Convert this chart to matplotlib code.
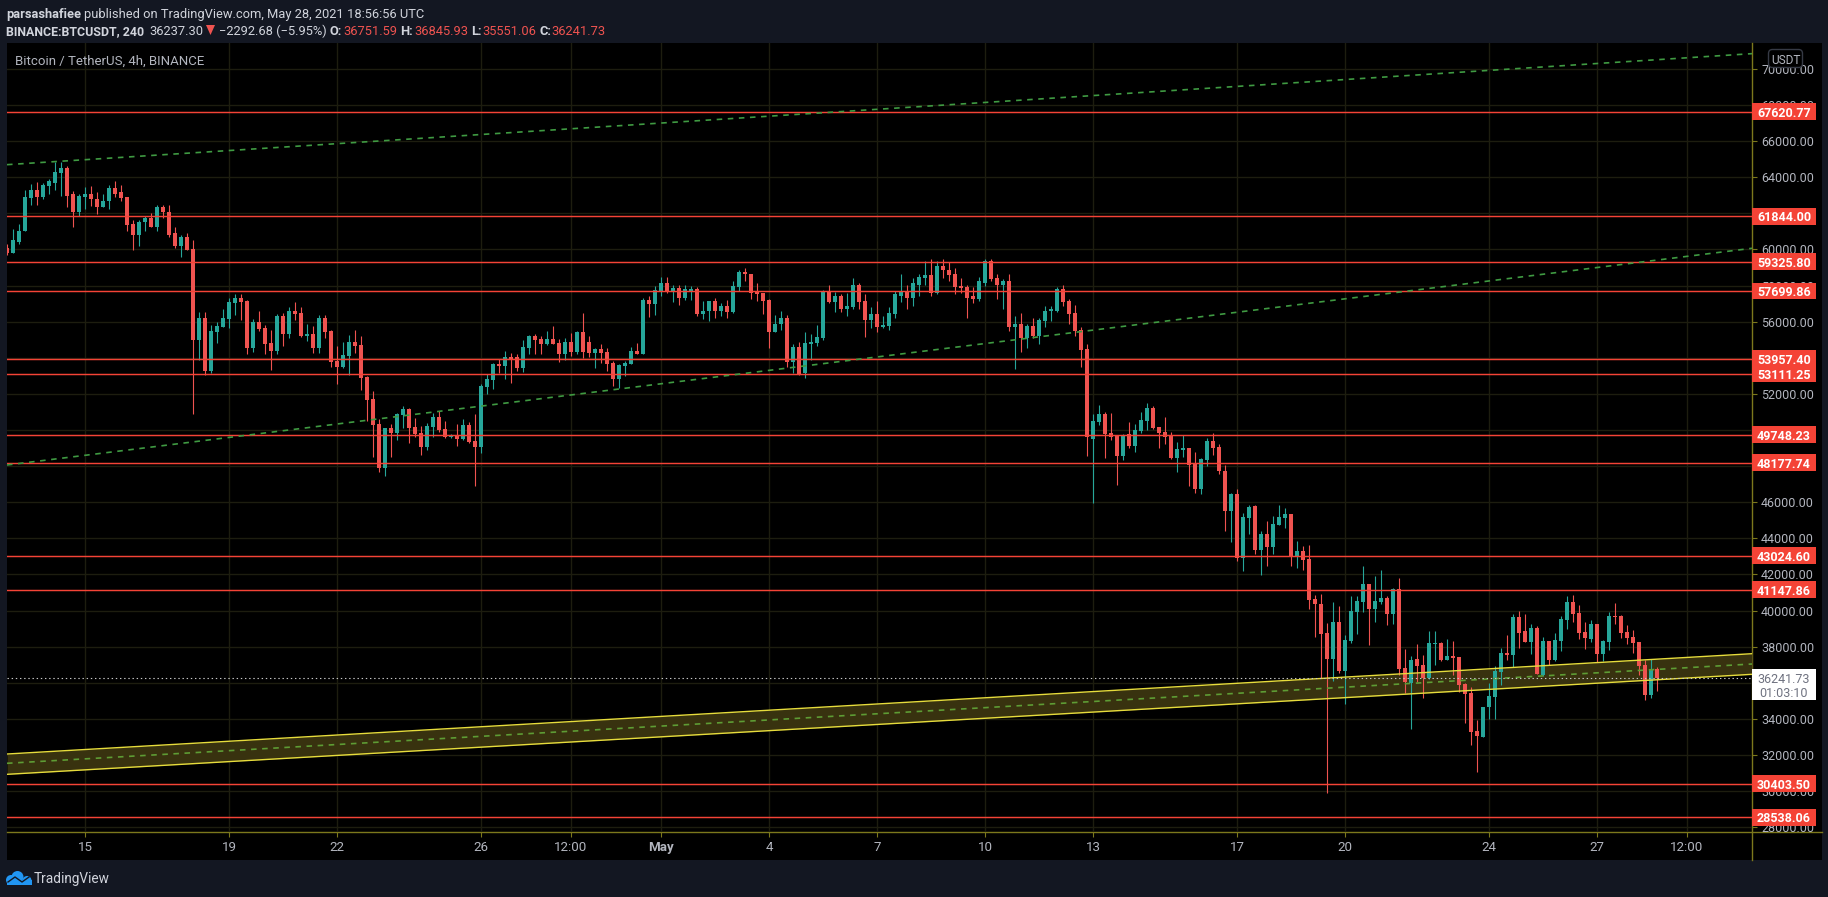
#!/usr/bin/env python3

import matplotlib
matplotlib.use('Agg')
import matplotlib.pyplot as plt
from matplotlib.patches import Rectangle, Circle, FancyBboxPatch, Polygon

# ------------------------
# Candles, 4h bars, bar 0 is April 15 00:00
# ------------------------
bars = list(range(-13, 263))

opens = [
    60090,59820,60440,61000,62880,63320,62930,63540,63710,64260,
    64540,63050,62100,62930,63050,62820,62330,62660,63380,63160,
    62930,61440,60830,61500,61720,61270,62380,62100,60890,60220,
    60720,60000,
    54960,56180,53250,55410,55680,56130,57010,57340,57120,54520,
    55960,55630,54800,54350,56290,55300,56570,56460,55190,55300,
    54520,56180,55460,53800,53470,54080,54850,54690,52920,51700,
    50310,47880,50090,49820,50810,51140,50150,49820,49040,50150,
    50700,50040,49590,49700,49480,50260,49370,49040,52360,52750,
    53640,53520,54020,54020,53410,54520,55190,55020,54740,55020,
    54800,54190,54850,54300,55410,54850,54240,54470,54300,53690,
    52800,53520,53640,54350,54190,57180,56960,57680,58170,57680,
    57840,57290,57680,57790,56400,56570,57120,56570,56850,56510,
    57900,58780,58670,57620,57570,57180,55410,55850,56180,53750,
    54580,53140,54740,54800,55070,57620,57070,57450,56730,56790,
    58010,57120,56070,56400,55680,55740,56400,57450,57620,57290,
    58060,58400,58560,57570,59060,58890,58670,57950,57900,57400,
    57230,58170,59390,58400,58010,58280,55680,55850,55070,55740,
    55190,56020,56570,56620,57790,57120,56460,55520,54470,49480,
    50430,50870,49820,49650,48540,49760,49100,49930,50480,51200,
    50150,49870,49650,48430,48880,48990,48100,46720,48320,49370,
    49040,47730,45520,46460,42920,45130,45800,43360,44250,43530,
    44750,45130,45360,42980,43310,42860,40650,40370,38770,37330,
    39380,36670,38330,39930,40480,41480,40100,40480,40710,39820,
    41200,36830,36000,37330,37000,36280,38160,38220,37270,37500,
    37440,35950,35450,33340,33010,34670,35230,36610,37660,37550,
    39650,38880,38270,39050,36440,38330,37270,38330,39490,40480,
    39880,38820,38440,39270,37610,38270,39710,39710,38820,38550,
    38270,37000,35340,36751.59]

closes = [
    59820,60500,61050,62930,63320,62930,63600,63780,64320,64540,
    62990,62100,62990,63050,62770,62330,62710,63380,63100,62880,
    61380,60830,61550,61720,61270,62380,62050,60830,60220,60720,
    59950,54960,
    56180,53250,55460,55740,56180,57070,57340,57070,54520,55960,
    55570,54740,54350,56290,55300,56570,56400,55190,55300,54520,
    56180,55410,53750,53470,54130,54850,54630,52860,51640,50260,
    47880,50090,49820,50870,51140,50090,49760,49040,50200,50700,
    49980,49590,49700,49480,50260,49320,49040,52420,52800,53640,
    53520,54020,53910,53410,54580,55190,54960,54740,55020,54740,
    54190,54850,54300,55410,54300,54240,54470,54240,53640,52800,
    53580,53690,54350,54190,57180,56960,57730,58170,57680,57840,
    57290,57790,57790,56400,56620,57120,56570,56850,56510,57950,
    58780,58620,57570,57510,57120,55410,55900,56180,53750,54580,
    53080,54800,54850,55130,57620,57070,57450,56730,56850,58010,
    57070,56070,56400,55680,55790,56460,57510,57620,57290,58120,
    58450,58560,57570,59060,58840,58560,57900,57840,57340,57230,
    58230,59390,58340,58010,58280,55680,55850,55070,55740,55190,
    56070,56620,56680,57790,57070,56400,55460,54410,49590,50480,
    50870,49760,49590,48540,49700,49100,49980,50540,51200,50090,
    49820,49590,48430,48930,48990,48040,46720,48380,49370,48990,
    47710,45520,46460,42920,45190,45740,43360,44250,43530,44800,
    45190,45360,42980,43310,42810,40600,40370,38710,37330,39380,
    36670,38380,39990,40540,41480,40100,40540,40710,39820,41200,
    36780,36060,37270,36940,36280,38220,38220,37270,37500,37380,
    35890,35390,33290,33070,34670,35280,36670,37660,37550,39650,
    38770,38270,39050,36500,38330,37270,38380,39540,40480,39820,
    38770,38490,39270,37610,38330,39710,39650,38770,38490,38220,
    36940,35340,36780,36241.73]

highs = [
    60280,61110,61440,63320,63650,63760,63710,63880,64870,64820,
    64650,63230,63050,63490,63510,63210,63050,63600,63820,63600,
    62930,61660,61660,61880,62030,62490,62490,62490,61220,60780,
    60940,60500,
    56510,56510,55790,55960,56680,57290,57510,57510,57180,56130,
    56620,55790,55520,56400,56460,56790,57070,56790,55850,55740,
    56350,56350,55520,54630,54850,55240,55520,55190,52970,52140,
    50590,50090,50310,50920,51310,51200,50650,50200,50370,50920,
    51030,50480,49760,50310,50590,50430,50870,52530,53080,53690,
    53910,54350,54240,54190,54960,55240,55300,55190,55460,55740,
    55020,55070,55350,55460,56460,55190,54520,54740,54520,53800,
    53640,53800,54580,54800,57290,57400,57950,58450,58450,58010,
    58060,58010,57950,57900,57120,57120,57290,57010,57180,58280,
    58840,59000,58670,58170,57570,57230,56350,56620,56350,54740,
    54850,55410,55300,55790,57730,58060,57620,57510,57570,58400,
    58120,57510,56790,57120,56290,56790,57680,58670,58060,58400,
    58620,59390,59450,59340,59500,59280,59000,58400,58010,57900,
    58450,59450,59500,58620,58340,58620,56290,56460,55850,56180,
    56180,56850,56850,57900,58010,57230,56900,55680,54740,50870,
    51370,50980,50920,49650,49760,50430,50310,50980,51480,51310,
    50150,50700,49870,49320,49700,48990,48760,48430,49540,49820,
    49210,48060,46520,46740,45410,45850,45850,44410,44970,45240,
    45850,45690,45360,43860,43580,43640,40870,40930,39320,40480,
    40260,38660,40820,40820,42480,41480,41920,42260,40820,41260,
    41810,37880,37500,38160,37550,38880,38880,38270,38440,38330,
    37440,36000,35780,33950,34670,36000,36940,37940,38660,39820,
    39990,39820,39270,39160,38550,38330,38770,39710,40820,40870,
    40320,39380,39490,39270,38380,39930,40430,39760,39210,38930,
    38270,37270,37330,36845.93]

lows = [
    59720,59780,60280,61000,62440,62490,62770,63050,63320,62990,
    62330,61270,61830,62270,62400,61990,62330,62270,62930,62660,
    61000,59950,60220,61050,61270,61050,61770,60670,60090,59560,
    59950,50870,
    53860,53030,53140,54800,55680,55630,56350,56070,54190,54300,
    55460,54190,53300,54190,54630,55070,56070,55130,54910,54240,
    54240,55070,53470,52530,53410,53030,54240,52200,50480,48490,
    47660,47440,48490,49430,50090,49260,49590,48600,48880,49590,
    49870,49540,49540,49100,49430,49260,46880,48710,51970,52250,
    53140,52800,52580,53250,53190,54190,54190,54190,54690,54740,
    53750,53860,54080,54190,53970,54020,53410,53690,53250,52420,
    52310,52970,53640,54190,54190,56240,56350,57400,57570,57070,
    56900,57180,57180,56290,56130,56020,56180,56290,56180,56460,
    57680,58230,57230,57120,56400,54520,55410,55520,53470,53140,
    53030,52860,53860,54630,54960,57010,56510,56510,56290,56730,
    56730,55130,55630,55410,55630,55520,56180,57070,56680,56850,
    57450,58010,57450,57510,58400,58280,57510,57570,56180,57010,
    57120,57950,58280,57230,56680,55460,53360,54300,54520,55070,
    54740,55680,56020,56510,56850,55900,55190,53470,48540,45940,
    50260,48430,49430,46940,48320,48990,48760,49820,49980,50040,
    48990,49210,48380,47660,48490,46880,46500,46440,47990,48600,
    47550,44410,43790,42750,42200,44250,43140,41980,42480,43140,
    44750,44580,42480,42370,42260,40100,38550,36280,29900,36110,
    36550,34840,38220,38710,39930,38100,39380,40370,39210,39270,
    36440,35450,33460,36060,35170,36220,37000,37220,37270,36440,
    35500,33790,32570,31070,33010,34010,34010,35890,37270,36890,
    37940,38270,37610,36500,36390,37000,37220,37770,38990,39380,
    38440,37880,38270,37160,37220,37830,39270,38490,38160,37660,
    36440,35060,35170,35551.06]

# ---------------------
# Levels and trend lines
# ---------------------
levels = [67620.77, 61844.00, 59325.80, 57699.86, 53957.40, 53111.25,
    49748.23, 48177.74, 43024.60, 41147.86, 30403.50, 28538.06]
last_price = 36241.73

trend_bars = [-13, 277.83]
upper_trend = [64700, 70850]
middle_trend = [48061, 60067]
channel_top = [32050, 37607]
channel_mid = [31535, 37036]
channel_bottom = [30924, 36465]

price_ticks = list(range(28000, 70001, 2000))
date_bars = [0, 24, 42, 66, 81, 96, 114, 132, 150, 168, 192, 210, 234, 252, 267]
date_labels = ['15', '19', '22', '26', '12:00', 'May', '4', '7', '10', '13',
    '17', '20', '24', '27', '12:00']

# ---------------------
# Colours and figure
# ---------------------
BG = '#131722'
UP = '#26a69a'
DOWN = '#ef5350'
LEVEL = '#f44336'
GRID = '#1d1d0f'
OLIVE = '#7c781c'
TEXT = '#b2b5be'
WIDTH, HEIGHT = 1828, 897
YMIN, YMAX = 27729, 71440
SCALE_SIZE = 9.0

plt.rcParams['font.family'] = ['Roboto', 'DejaVu Sans']
plt.rcParams['lines.scale_dashes'] = False

fig = plt.figure(figsize=(WIDTH / 100, HEIGHT / 100), dpi=100, facecolor=BG)

def pixel_axes(zorder):
    a = fig.add_axes([0, 0, 1, 1], zorder=zorder)
    a.set_xlim(0, WIDTH)
    a.set_ylim(HEIGHT, 0)
    a.axis('off')
    return a

back = pixel_axes(0)
back.add_patch(Rectangle((7, 43), 1815, 817, facecolor='black', edgecolor='none'))
back.plot([7, 1822], [832, 832], color=OLIVE, lw=1)
back.plot([1752, 1752], [43, 860], color=OLIVE, lw=1)

# ---------------------
# Chart pane
# ---------------------
ax = fig.add_axes([7 / WIDTH, (HEIGHT - 832) / HEIGHT, 1745 / WIDTH, 789 / HEIGHT], zorder=1)
ax.patch.set_visible(False)
for s in ax.spines.values():
    s.set_visible(False)
ax.set_xlim(-13, 277.83)
ax.set_ylim(YMIN, YMAX)

ax.set_yticks(price_ticks)
ax.set_yticklabels([f'{p:.2f}' for p in price_ticks])
ax.set_xticks(date_bars)
ax.set_xticklabels(date_labels)
ax.get_xticklabels()[5].set_fontweight('bold')
ax.tick_params(axis='y', left=False, right=True, labelleft=False, labelright=True,
    length=3.6, width=0.8, color=OLIVE, labelcolor=TEXT, labelsize=SCALE_SIZE, pad=3)
ax.tick_params(axis='x', length=3.6, width=0.8, color=OLIVE, labelcolor=TEXT,
    labelsize=9.6, pad=3)
ax.grid(True, color=GRID, lw=1)
ax.set_axisbelow(True)

ax.fill_between(trend_bars, channel_bottom, channel_top, color='#38320f', lw=0, zorder=1)

colors = [UP if c >= o else DOWN for o, c in zip(opens, closes)]
ax.vlines(bars, lows, highs, colors=colors, lw=0.8, zorder=2)
ax.bar(bars, [abs(c - o) for o, c in zip(opens, closes)],
    bottom=[min(o, c) for o, c in zip(opens, closes)],
    width=0.7, color=colors, lw=0, zorder=2.5)

for level in levels:
    ax.axhline(level, color=LEVEL, lw=1.05, zorder=3)

ax.plot(trend_bars, upper_trend, color='#3f9a42', lw=1.2, dashes=(4, 4), zorder=3)
ax.plot(trend_bars, middle_trend, color='#3f9a42', lw=1.2, dashes=(4, 4), zorder=3)
ax.plot(trend_bars, channel_top, color='#e6dc3c', lw=1, zorder=3)
ax.plot(trend_bars, channel_bottom, color='#e6dc3c', lw=1, zorder=3)
ax.plot(trend_bars, channel_mid, color='#5e9c34', lw=1.2, dashes=(4, 4), zorder=3)
ax.axhline(last_price, color='#c8c8c8', lw=0.8, dashes=(1, 2), zorder=3)

# ---------------------
# Price scale labels
# ---------------------
scale = fig.add_axes([1752 / WIDTH, (HEIGHT - 832) / HEIGHT, 64 / WIDTH, 789 / HEIGHT], zorder=2)
scale.patch.set_visible(False)
scale.axis('off')
scale.set_xlim(0, 64)
scale.set_ylim(YMIN, YMAX)
for level in levels:
    scale.add_patch(Rectangle((0, level - 470), 64, 940, facecolor=LEVEL, edgecolor='none'))
    scale.text(32, level, f'{level:.2f}', color='white', fontsize=SCALE_SIZE, fontweight='bold',
        va='center_baseline', ha='center')
scale.add_patch(Rectangle((0, last_price - 1190), 64, 1720, facecolor='white', edgecolor='none'))
scale.text(32, last_price, f'{last_price:.2f}', color='#6f7280', fontsize=SCALE_SIZE,
    va='center_baseline', ha='center')
scale.text(32, last_price - 780, '01:03:10', color='#6f7280', fontsize=SCALE_SIZE,
    va='center_baseline', ha='center')

# ---------------------
# Header, badge and logo
# ---------------------
top = pixel_axes(3)
top.add_patch(FancyBboxPatch((1770, 51), 31, 15, boxstyle='round,pad=1.5,rounding_size=4',
    facecolor='#000000', edgecolor='#363a45', lw=1))
top.text(1785.5, 58.5, 'USDT', color=TEXT, fontsize=8.6, ha='center', va='center_baseline')

LIGHT = '#d1d4dc'
def header(x, y, s, color=LIGHT, weight='normal', size=9.3):
    top.text(x, y, s, color=color, fontsize=size, fontweight=weight, ha='left',
        va='center_baseline')

header(6, 13, 'parsashafiee', weight='bold')
header(84, 13, 'published on TradingView.com, May 28, 2021 18:56:56 UTC')
header(6, 30, 'BINANCE:BTCUSDT, 240', weight='bold', size=8.9)
header(149, 30, '36237.30')
top.add_patch(Polygon([[206, 25], [215, 25], [210.5, 35]], facecolor=DOWN, edgecolor='none'))
header(219, 30, '\u22122292.68 (\u22125.95%)')
header(329, 30, 'O:', weight='bold')
header(343, 30, '36751.59', color=DOWN)
header(400, 30, 'H:', weight='bold')
header(414, 30, '36845.93', color=DOWN)
header(471, 30, 'L:', weight='bold')
header(482, 30, '35551.06', color=DOWN)
header(539, 30, 'C:', weight='bold')
header(551, 30, '36241.73', color=DOWN)
header(15, 60, 'Bitcoin / TetherUS, 4h, BINANCE', color=TEXT, size=9.5)

LOGO = '#2196f3'
top.add_patch(Circle((11, 880), 5, facecolor=LOGO, edgecolor='none'))
top.add_patch(Circle((17.5, 877), 6, facecolor=LOGO, edgecolor='none'))
top.add_patch(Circle((27, 880.5), 4.5, facecolor=LOGO, edgecolor='none'))
top.add_patch(Rectangle((7, 880), 25, 5, facecolor=LOGO, edgecolor='none'))
top.plot([8, 15, 22, 29], [882, 877, 882, 877], color=BG, lw=1)
top.text(34, 878, 'TradingView', color=LIGHT, fontsize=9.8, ha='left', va='center_baseline')

fig.savefig('out.png', dpi=100, facecolor=BG)
